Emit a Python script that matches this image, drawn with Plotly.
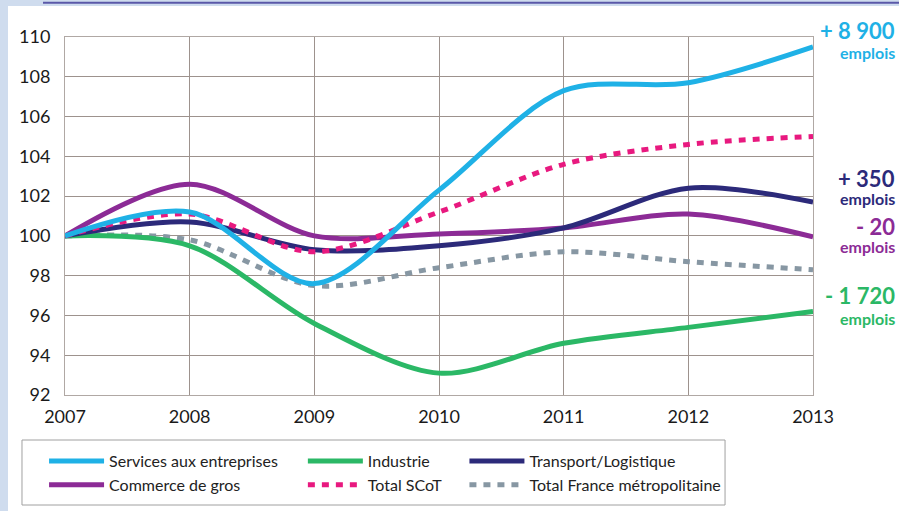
import plotly.graph_objects as go

# --- data (indice base 100 en 2007) ---
annees = [2007, 2008, 2009, 2010, 2011, 2012, 2013]
services = [100, 101.2, 97.6, 102.3, 107.3, 107.7, 109.5]
industrie = [100, 99.5, 95.6, 93.1, 94.6, 95.4, 96.2]
transport = [100, 100.7, 99.3, 99.5, 100.4, 102.4, 101.7]
commerce = [100, 102.6, 100.0, 100.1, 100.4, 101.1, 99.95]
total_scot = [100, 101.1, 99.2, 101.2, 103.6, 104.6, 105.0]
total_france = [100, 99.8, 97.5, 98.4, 99.2, 98.7, 98.3]

y_ticks = [92, 94, 96, 98, 100, 102, 104, 106, 108, 110]

# variation d'emplois 2007-2013
variations = ["+ 8 900", "+ 350", "- 20", "- 1 720"]

C_SERV = "#1fb1e6"
C_IND = "#2bb866"
C_TRANS = "#2c2a7a"
C_COM = "#8c2b96"
C_SCOT = "#e8197f"
C_FR = "#8797a3"

FONT = "Lato"

fig = go.Figure()

def add(y, name, color, legend, dash="solid"):
    fig.add_trace(go.Scatter(
        x=annees, y=y, name=name, mode="lines",
        line=dict(color=color, width=5, shape="spline", smoothing=0.9, dash=dash),
        legend=legend,
    ))

add(total_france, "Total France métropolitaine", C_FR, "legend3", dash="7px,7px")
add(industrie, "Industrie", C_IND, "legend2")
add(commerce, "Commerce de gros", C_COM, "legend")
add(transport, "Transport/Logistique", C_TRANS, "legend3")
add(total_scot, "Total SCoT", C_SCOT, "legend2", dash="7px,7px")
add(services, "Services aux entreprises", C_SERV, "legend")

# legend order per column (top row first)
order = {"Services aux entreprises": 1, "Commerce de gros": 2, "Industrie": 1,
         "Total SCoT": 2, "Transport/Logistique": 1, "Total France métropolitaine": 2}
for tr in fig.data:
    tr.legendrank = order[tr.name]

leg_common = dict(orientation="v", yref="container", yanchor="top", y=0.131, xanchor="left",
                  bgcolor="rgba(0,0,0,0)", font=dict(family=FONT, size=16, color="#222"),
                  itemwidth=55, tracegroupgap=0)

# right-side labels (paper y of number line, paper y of "emplois")
label_pos = [(1.017, 0.957), (0.604, 0.548), (0.470, 0.416), (0.278, 0.213)]
label_cols = [C_SERV, C_TRANS, C_COM, C_IND]
annotations = []
for txt, (y1, y2), col in zip(variations, label_pos, label_cols):
    annotations.append(dict(x=1.1125, xref="paper", y=y1, yref="paper", text=f"<b>{txt}</b>",
                            showarrow=False, xanchor="right", yanchor="middle",
                            font=dict(family=FONT, size=22, color=col)))
    annotations.append(dict(x=1.1125, xref="paper", y=y2, yref="paper", text="<b>emplois</b>",
                            showarrow=False, xanchor="right", yanchor="middle",
                            font=dict(family=FONT, size=16, color=col)))

shapes = [
    # white page over light-blue frame
    dict(type="rect", xref="paper", yref="paper", x0=-0.0762, x1=1.2, y0=-0.4, y1=1.0866,
         fillcolor="white", line=dict(width=0), layer="below"),
    dict(type="line", xref="paper", yref="paper", x0=-0.0294, x1=1.2, y0=1.0955, y1=1.0955,
         line=dict(color="#5a58a8", width=2)),
    # legend box
    dict(type="rect", xref="paper", yref="paper", x0=-0.0575, x1=0.8824, y0=-0.3073, y1=-0.1257,
         line=dict(color="#a0a0a0", width=1), fillcolor="rgba(0,0,0,0)"),
]

fig.update_layout(
    width=899, height=511,
    margin=dict(l=65, r=86, t=37, b=116),
    paper_bgcolor="#cfdcee",
    plot_bgcolor="#e3e3e3",
    font=dict(family=FONT, size=18, color="#1a1a1a"),
    showlegend=True,
    legend=dict(leg_common, x=-0.028),
    legend2=dict(leg_common, x=0.318),
    legend3=dict(leg_common, x=0.534),
    annotations=annotations,
    shapes=shapes,
    xaxis=dict(range=[2007, 2013], tickvals=annees, ticktext=[str(a) for a in annees],
               showgrid=True, gridcolor="#9d928d", gridwidth=1, zeroline=False,
               showline=True, linecolor="#b0a8a4", mirror=True, automargin=False,
               ticks="outside", ticklen=5, tickcolor="rgba(0,0,0,0)",
               tickfont=dict(family=FONT, size=18, color="#1a1a1a")),
    yaxis=dict(range=[92, 110], tickvals=y_ticks,
               showgrid=True, gridcolor="#9d928d", gridwidth=1, zeroline=False,
               showline=True, linecolor="#b0a8a4", mirror=True, automargin=False,
               ticks="outside", ticklen=10, tickcolor="rgba(0,0,0,0)",
               tickfont=dict(family=FONT, size=18, color="#1a1a1a")),
)

fig.write_html("out.html", config={"displayModeBar": False},
               post_script="document.body.style.margin='0';")
